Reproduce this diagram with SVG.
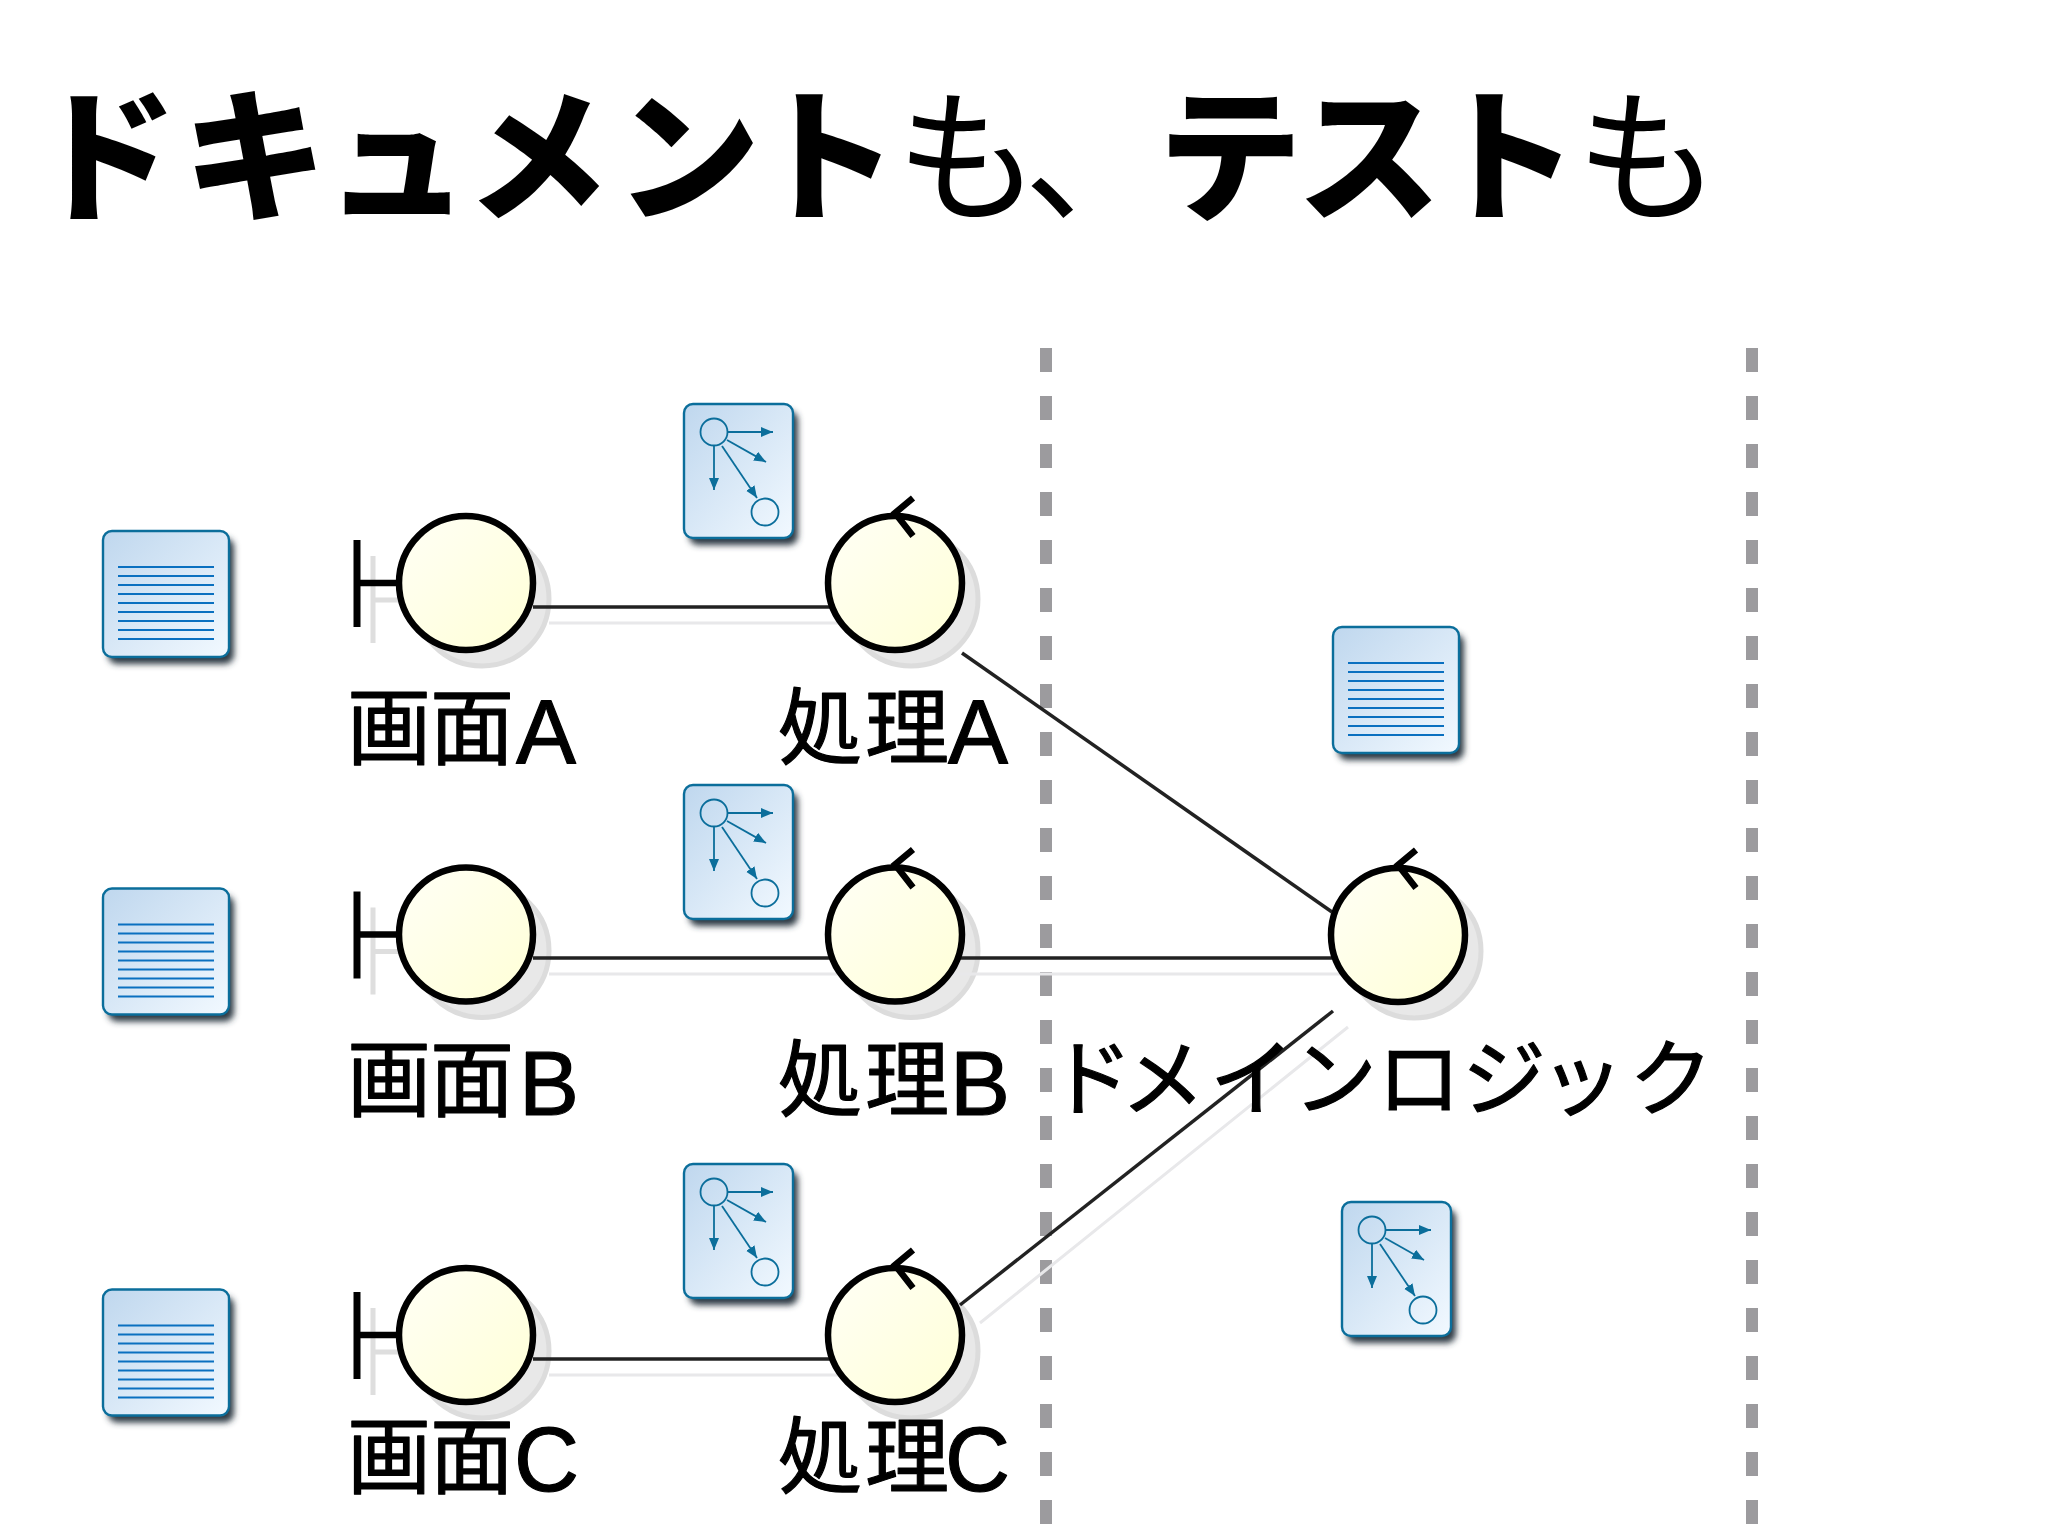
<svg xmlns="http://www.w3.org/2000/svg" xmlns:xlink="http://www.w3.org/1999/xlink" width="2048" height="1536" viewBox="0 0 2048 1536">
<style>
text{font-family:"Noto Sans CJK JP","Noto Sans",sans-serif;fill:#000}
.title{font-size:144px}
.b{font-weight:900}
.r{font-weight:400}
.label{font-size:84px;stroke:#000;stroke-width:1.2;stroke-linejoin:round}
.latin{font-family:"Liberation Sans",sans-serif;font-size:90px}
.wire{stroke:#222;stroke-width:3.5;fill:none}
.wires{stroke:#e8e8ea;stroke-width:3;fill:none}
.dash{stroke:#9c9b9e;stroke-width:12;stroke-dasharray:24 24;fill:none}
.ln{stroke:#000;stroke-width:6.5;fill:none}
.lns{stroke:#dedede;stroke-width:5;fill:none}
.ball{fill:url(#ballG);stroke:#000;stroke-width:6.5}
.balls{fill:#e8e8e8;stroke:#dcdcdc;stroke-width:5}
.ink{stroke:#0b6e9b;stroke-width:1.8;fill:none}
.card{stroke:#0b6e9b;stroke-width:2.4;fill:url(#cardG)}
.rows{stroke:#0a70c0;stroke-width:1.8}
</style>
<defs>
<linearGradient id="ballG" x1="0" y1="0" x2="1" y2="1"><stop offset="0" stop-color="#fffff6"/><stop offset="1" stop-color="#ffffd6"/></linearGradient>
<linearGradient id="cardG" x1="0" y1="0" x2="1" y2="1"><stop offset="0" stop-color="#bfd7ee"/><stop offset="1" stop-color="#f2f9ff"/></linearGradient>
<filter id="soft" x="-20%" y="-20%" width="140%" height="140%"><feGaussianBlur stdDeviation="3"/></filter>
<marker id="tip" markerUnits="userSpaceOnUse" markerWidth="14" markerHeight="11" refX="12" refY="5" orient="auto"><path d="M0 0L12 5L0 10Z" fill="#0b6e9b"/></marker>
<g id="doc">
<rect x="5" y="7" width="126" height="126" rx="9" fill="#2e3a44" filter="url(#soft)"/>
<rect x="0" y="0" width="126" height="126" rx="9" class="card"/>
<path class="rows" d="M15 36H111M15 45H111M15 54H111M15 63H111M15 72H111M15 81H111M15 90H111M15 99H111M15 108H111"/>
</g>
<g id="flow">
<rect x="5" y="7" width="109" height="134" rx="9" fill="#2e3a44" filter="url(#soft)"/>
<rect x="0" y="0" width="109" height="134" rx="9" class="card"/>
<circle cx="30" cy="28" r="13.5" class="ink"/>
<circle cx="81" cy="108" r="13.5" class="ink"/>
<path class="ink" marker-end="url(#tip)" d="M44 28H89"/>
<path class="ink" marker-end="url(#tip)" d="M43 36L82 58"/>
<path class="ink" marker-end="url(#tip)" d="M38 42L73 94"/>
<path class="ink" marker-end="url(#tip)" d="M30 42V86"/>
</g>
<g id="boundary">
<path class="ln" style="stroke-width:7" d="M-109 -43V44"/>
<path class="ln" d="M-109 0H-66"/>
<circle r="67" class="ball"/>
</g>
<g id="control">
<circle r="67" class="ball"/>
<path class="ln" d="M18 -85L0 -70L18 -47"/>
</g>
<g id="bshadow">
<path class="lns" d="M-93 -27V60M-93 17H-60"/>
<circle cx="16" cy="16" r="67" class="balls"/>
</g>
<circle id="cshadow" cx="16" cy="16" r="67" class="balls"/>
</defs>
<rect width="2048" height="1536" fill="#fff"/>
<text id="title" class="title" y="210"><tspan class="b" text-anchor="middle" x="105 255 397 538 688 826">ドキュメント</tspan><tspan class="r" text-anchor="middle" x="968 1096">も、</tspan><tspan class="b" text-anchor="middle" x="1230 1369 1506">テスト</tspan><tspan class="r" text-anchor="middle" x="1648">も</tspan></text>
<g id="lanes"><path class="dash" d="M1046 348V1536M1752 348V1536"/></g>
<g id="node-shadows">
<use href="#bshadow" x="466" y="583"/><use href="#bshadow" x="466" y="934.5"/><use href="#bshadow" x="466" y="1335"/>
<use href="#cshadow" x="895" y="583"/><use href="#cshadow" x="895" y="934.5"/><use href="#cshadow" x="895" y="1335"/>
<use href="#cshadow" x="1398" y="935"/>
</g>
<g id="connector-shadows">
<path class="wires" d="M549 623H850M549 974H1350M549 1375H850M980 1323L1348 1027"/>
</g>
<g id="connectors">
<path class="wire" d="M533 607H830"/>
<path class="wire" d="M533 958H1332"/>
<path class="wire" d="M533 1359H830"/>
<path class="wire" d="M962 653L1332 912"/>
<path class="wire" d="M960 1305L1333 1011"/>
</g>
<g id="screen-a"><use href="#boundary" x="466" y="583"/><text class="label r" y="758" x="347 430">画面<tspan class="latin" x="516" y="763">A</tspan></text></g>
<g id="process-a"><use href="#control" x="895" y="583"/><text class="label r" y="758" x="778 865">処理<tspan class="latin" x="948" y="763">A</tspan></text></g>
<g id="screen-b"><use href="#boundary" x="466" y="934.5"/><text class="label r" y="1110" x="347 430">画面<tspan class="latin" x="519" y="1115">B</tspan></text></g>
<g id="process-b"><use href="#control" x="895" y="934.5"/><text class="label r" y="1110" x="778 865">処理<tspan class="latin" x="950" y="1115">B</tspan></text></g>
<g id="screen-c"><use href="#boundary" x="466" y="1335"/><text class="label r" y="1487" x="347 430">画面<tspan class="latin" x="514" y="1491">C</tspan></text></g>
<g id="process-c"><use href="#control" x="895" y="1335"/><text class="label r" y="1487" x="778 865">処理<tspan class="latin" x="945" y="1491">C</tspan></text></g>
<g id="domain"><use href="#control" x="1398" y="935"/><text class="label r" y="1109" text-anchor="middle" x="1091 1163 1252 1335 1419 1504 1582 1671">ドメインロジック</text></g>
<g id="doc-a"><use href="#doc" x="103" y="531"/></g>
<g id="doc-b"><use href="#doc" x="103" y="888.5"/></g>
<g id="doc-c"><use href="#doc" x="103" y="1289.5"/></g>
<g id="doc-domain"><use href="#doc" x="1333" y="627"/></g>
<g id="flow-a"><use href="#flow" x="684" y="404"/></g>
<g id="flow-b"><use href="#flow" x="684" y="785"/></g>
<g id="flow-c"><use href="#flow" x="684" y="1164"/></g>
<g id="flow-domain"><use href="#flow" x="1342" y="1202"/></g>
</svg>
